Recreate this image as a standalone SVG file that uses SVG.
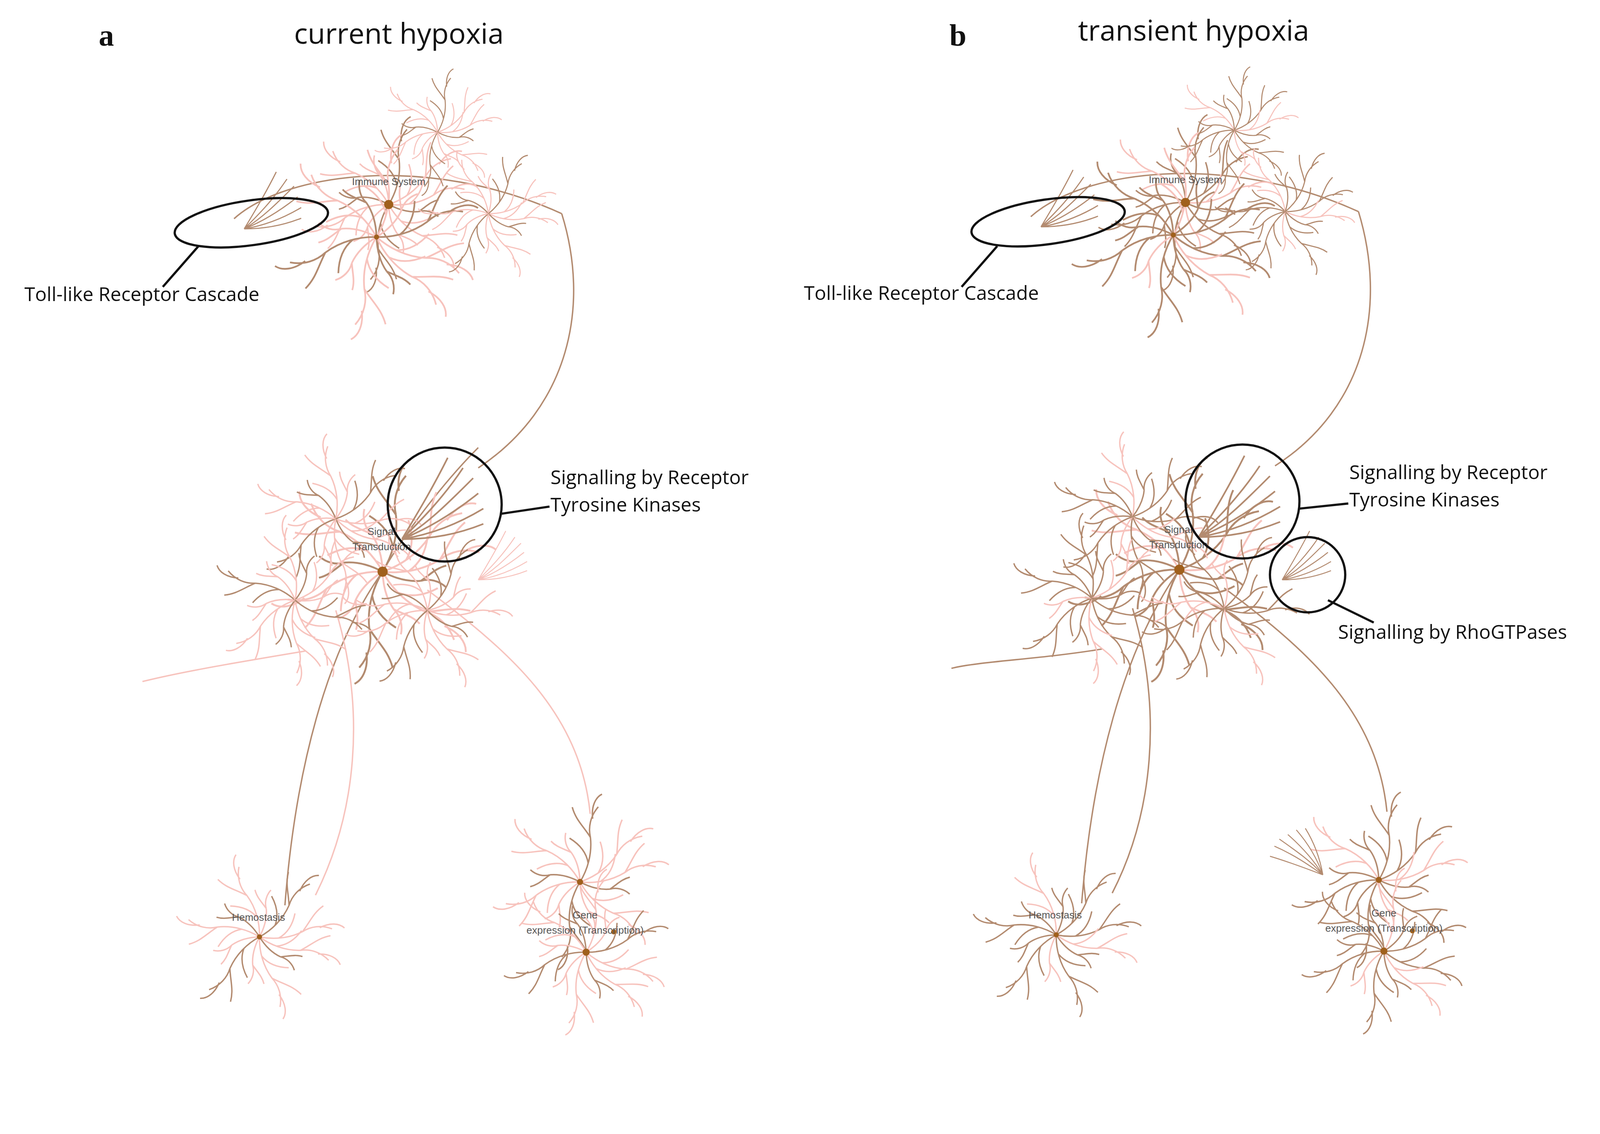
<svg xmlns="http://www.w3.org/2000/svg" width="4310" height="2904" viewBox="0 0 4310 2904">
<style>
.p{fill:none;stroke:#f7c3bd;stroke-width:1.6}
.b{fill:none;stroke:#b38b70;stroke-width:1.6}
.lk{fill:none;stroke:#b38b70;stroke-width:1.4}
.lp{fill:none;stroke:#f7c3bd;stroke-width:1.4}
.hub{fill:#a0601c}
.nl{font-family:"Liberation Sans",Arial,sans-serif;font-size:10px;fill:#555;text-anchor:middle}
.an{font-family:"Open Sans","Liberation Sans",sans-serif;font-size:19px;fill:#111}
.ti{font-family:"Open Sans","Liberation Sans",sans-serif;font-size:28px;fill:#111;text-anchor:middle}
.pl{font-family:"Liberation Serif",serif;font-size:30px;font-weight:bold;fill:#111}
.ring{fill:none;stroke:#111;stroke-width:2.2}
</style>
<defs>
<path id="br" d="M0,0 C15,-5 30,-15 40,-30 M40,-30 C45,-40 55,-48 68,-50 M40,-30 C42,-45 40,-55 46,-68 M20,-10 C26,-20 26,-32 22,-44 M55,-44 C62,-55 72,-60 80,-58"/>
<path id="bs" d="M0,0 C10,-4 20,-10 27,-20 M27,-20 C30,-27 37,-32 45,-33 M27,-20 C28,-30 27,-37 31,-45"/>
<g id="fanP"><use href="#br" class="p"/><use href="#br" class="p" transform="rotate(25)"/><use href="#bs" class="b" transform="rotate(50)"/><use href="#br" class="p" transform="rotate(80)"/><use href="#bs" class="p" transform="rotate(110)"/><use href="#br" class="b" transform="rotate(140)"/><use href="#bs" class="p" transform="rotate(170)"/><use href="#br" class="p" transform="rotate(200)"/><use href="#bs" class="b" transform="rotate(230)"/><use href="#br" class="p" transform="rotate(260)"/><use href="#bs" class="p" transform="rotate(290)"/><use href="#br" class="b" transform="rotate(320)"/></g>
<g id="fanB"><use href="#br" class="b"/><use href="#br" class="p" transform="rotate(25)"/><use href="#bs" class="b" transform="rotate(50)"/><use href="#br" class="b" transform="rotate(80)"/><use href="#bs" class="p" transform="rotate(110)"/><use href="#br" class="b" transform="rotate(140)"/><use href="#bs" class="b" transform="rotate(170)"/><use href="#br" class="b" transform="rotate(200)"/><use href="#bs" class="b" transform="rotate(230)"/><use href="#br" class="p" transform="rotate(260)"/><use href="#bs" class="b" transform="rotate(290)"/><use href="#br" class="b" transform="rotate(320)"/></g>
<g id="rtk"><path d="M0,0 C20,-20 40,-40 60,-70 M0,0 C25,-15 45,-35 70,-60 M0,0 C25,-10 50,-25 75,-45 M0,0 C30,-5 55,-15 80,-30 M0,0 C30,0 55,-5 80,-15 M0,0 C15,-25 30,-50 45,-80"/></g>
</defs>
<rect width="4310" height="2904" fill="#fff"/>
<g transform="scale(2.605)">
<g id="panel-a">
 <g id="connectors-a">
  <path class="lk" d="M230,215 C280,170 420,150 552,210"/>
  <path class="lk" d="M552,210 C580,300 560,400 470,460"/>
  <path class="lk" d="M376,562 C320,640 290,760 280,890"/>
  <path class="lp" d="M330,600 C360,700 350,800 310,880"/>
  <path class="lp" d="M420,580 C500,640 570,700 580,800"/>
  <path class="lk" d="M376,562 C400,520 440,470 470,440"/>
  <path class="lp" d="M300,640 C240,650 180,660 140,670"/>
 </g>
 <g id="immune-a"><use href="#fanP" transform="translate(382,201) scale(.9)"/><use href="#fanP" transform="translate(370,233) scale(1.05) rotate(60)"/><use href="#fanP" transform="translate(430,130) scale(.65)"/><use href="#fanP" transform="translate(480,210) scale(.7) rotate(20)"/><use href="#rtk" class="b" transform="translate(240,225) scale(.7)"/><circle class="hub" cx="382" cy="201" r="4.5"/><circle class="hub" cx="370" cy="233" r="2.5"/><text class="nl" x="382" y="182">Immune System</text></g>
 <g id="signal-a"><use href="#fanP" transform="translate(376,562) scale(1.15)"/><use href="#fanP" transform="translate(330,510) scale(.85) rotate(40)"/><use href="#fanP" transform="translate(290,590) scale(.85) rotate(100)"/><use href="#fanP" transform="translate(420,600) scale(.85) rotate(200)"/><use href="#rtk" class="b" transform="translate(395,530)"/><use href="#rtk" class="p" transform="translate(470,570) scale(.6)"/><circle class="hub" cx="376" cy="562" r="5"/><text class="nl" x="375" y="526">Signal</text><text class="nl" x="375" y="541">Transduction</text></g>
 <g id="hemo-a"><use href="#fanP" transform="translate(255,921) scale(.85) rotate(30)"/><circle class="hub" cx="255" cy="921" r="2.5"/><text class="nl" x="254" y="905">Hemostasis</text></g>
 <g id="gene-a"><use href="#fanP" transform="translate(570,867) scale(.9)"/><use href="#fanP" transform="translate(576,936) scale(.85) rotate(60)"/><circle class="hub" cx="570" cy="867" r="3"/><circle class="hub" cx="576" cy="936" r="3.5"/><circle class="hub" cx="603" cy="916" r="2.5"/><text class="nl" x="575" y="903">Gene</text><text class="nl" x="575" y="918">expression (Transcription)</text></g>
 <g id="ann-a">
  <ellipse class="ring" cx="247" cy="219" rx="76" ry="22" transform="rotate(-8 247 219)"/>
  <line class="ring" x1="195" y1="242" x2="160" y2="282" stroke-width="1.2"/>
  <text class="an" x="24" y="296">Toll-like Receptor Cascade</text>
  <circle class="ring" cx="437" cy="496" r="56"/>
  <line class="ring" x1="493" y1="505" x2="540" y2="498" stroke-width="1.2"/>
  <text class="an" x="541" y="476">Signalling by Receptor</text>
  <text class="an" x="541" y="503">Tyrosine Kinases</text>
 </g>
 <text class="pl" x="97" y="45">a</text><text class="ti" x="392" y="43">current hypoxia</text>
</g>
<g id="panel-b">
 <g id="connectors-b">
  <path class="lk" d="M1013,213 C1063,168 1203,148 1335,208"/>
  <path class="lk" d="M1335,208 C1363,300 1343,400 1253,458"/>
  <path class="lk" d="M1159,560 C1103,640 1073,760 1063,888"/>
  <path class="lk" d="M1113,598 C1143,700 1133,800 1093,878"/>
  <path class="lk" d="M1203,578 C1283,638 1353,698 1363,798"/>
  <path class="lk" d="M1083,638 C1023,648 963,650 935,657"/>
 </g>
 <g id="immune-b"><use href="#fanB" transform="translate(1165,199) scale(.9)"/><use href="#fanB" transform="translate(1153,231) scale(1.05) rotate(60)"/><use href="#fanB" transform="translate(1213,128) scale(.65)"/><use href="#fanB" transform="translate(1263,208) scale(.7) rotate(20)"/><use href="#rtk" class="b" transform="translate(1023,223) scale(.7)"/><circle class="hub" cx="1165" cy="199" r="4.5"/><circle class="hub" cx="1153" cy="231" r="2.5"/><text class="nl" x="1165" y="180">Immune System</text></g>
 <g id="signal-b"><use href="#fanB" transform="translate(1159,560) scale(1.15)"/><use href="#fanB" transform="translate(1113,508) scale(.85) rotate(40)"/><use href="#fanB" transform="translate(1073,588) scale(.85) rotate(100)"/><use href="#fanB" transform="translate(1203,598) scale(.85) rotate(200)"/><use href="#rtk" class="b" transform="translate(1178,528)"/><use href="#rtk" class="b" transform="translate(1260,570) scale(.6)"/><circle class="hub" cx="1159" cy="560" r="5"/><text class="nl" x="1158" y="524">Signal</text><text class="nl" x="1158" y="539">Transduction</text></g>
 <g id="hemo-b"><use href="#fanB" transform="translate(1038,919) scale(.85) rotate(30)"/><circle class="hub" cx="1038" cy="919" r="2.5"/><text class="nl" x="1037" y="903">Hemostasis</text></g>
 <g id="gene-b"><use href="#fanB" transform="translate(1355,865) scale(.9)"/><use href="#fanB" transform="translate(1360,935) scale(.85) rotate(60)"/><use href="#rtk" class="b" transform="translate(1300,860) scale(.6) rotate(-100)"/><circle class="hub" cx="1355" cy="865" r="3"/><circle class="hub" cx="1360" cy="935" r="3.5"/><circle class="hub" cx="1388" cy="915" r="2.5"/><text class="nl" x="1360" y="901">Gene</text><text class="nl" x="1360" y="916">expression (Transcription)</text></g>
 <g id="ann-b">
  <ellipse class="ring" cx="1030" cy="218" rx="76" ry="22" transform="rotate(-8 1030 218)"/>
  <line class="ring" x1="980" y1="242" x2="945" y2="282" stroke-width="1.2"/>
  <text class="an" x="790" y="295">Toll-like Receptor Cascade</text>
  <circle class="ring" cx="1221" cy="493" r="56"/>
  <line class="ring" x1="1277" y1="500" x2="1325" y2="495" stroke-width="1.2"/>
  <text class="an" x="1326" y="471">Signalling by Receptor</text>
  <text class="an" x="1326" y="498">Tyrosine Kinases</text>
  <circle class="ring" cx="1285" cy="565" r="37"/>
  <line class="ring" x1="1305" y1="590" x2="1350" y2="612" stroke-width="1.2"/>
  <text class="an" x="1315" y="628">Signalling by RhoGTPases</text>
 </g>
 <text class="pl" x="933" y="45">b</text><text class="ti" x="1173" y="40">transient hypoxia</text>
</g>
</g>
</svg>
